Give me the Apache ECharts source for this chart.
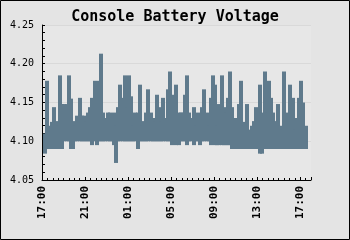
<!DOCTYPE html>
<html>
<head>
<meta charset="utf-8">
<script src="https://cdn.jsdelivr.net/npm/echarts@6/dist/echarts.min.js"></script>
<style>
html,body{margin:0;padding:0;background:#e4e4e4;}
#c{width:350px;height:240px;}
</style>
</head>
<body>
<div id="c"></div>
<script>
// Hours after 17:00 of first sample column, and sampling step (hours)
const startHour = 0.15;
const stepHours = 0.2;
// Upper envelope of battery voltage per column (V)
const hiValues = [
4.11, 4.178, 4.12, 4.125, 4.144, 4.126, 4.12, 4.185, 4.148, 4.148,
4.148, 4.185, 4.155, 4.126, 4.12, 4.133, 4.156, 4.133, 4.133, 4.126,
4.137, 4.144, 4.156, 4.178, 4.171, 4.178, 4.213, 4.137, 4.13, 4.137,
4.137, 4.13, 4.137, 4.12, 4.144, 4.173, 4.156, 4.185, 4.144, 4.185,
4.158, 4.12, 4.137, 4.137, 4.173, 4.12, 4.126, 4.137, 4.167, 4.137,
4.13, 4.126, 4.16, 4.144, 4.126, 4.156, 4.13, 4.167, 4.19, 4.16,
4.15, 4.173, 4.137, 4.137, 4.137, 4.16, 4.185, 4.137, 4.13, 4.144,
4.12, 4.137, 4.13, 4.144, 4.167, 4.137, 4.12, 4.156, 4.185, 4.173,
4.12, 4.148, 4.185, 4.144, 4.137, 4.156, 4.19, 4.144, 4.13, 4.13,
4.148, 4.178, 4.12, 4.125, 4.148, 4.115, 4.12, 4.126, 4.144, 4.13,
4.173, 4.137, 4.19, 4.137, 4.178, 4.156, 4.137, 4.126, 4.148, 4.12,
4.115, 4.19, 4.126, 4.137, 4.173, 4.156, 4.115, 4.13, 4.156, 4.178,
4.15, 4.12
];
// Lower envelope per column (V)
const loValues = [
4.084, 4.09, 4.09, 4.09, 4.09, 4.09, 4.09, 4.09, 4.09, 4.10,
4.10, 4.10, 4.09, 4.09, 4.10, 4.10, 4.10, 4.10, 4.10, 4.10,
4.10, 4.10, 4.095, 4.10, 4.095, 4.10, 4.10, 4.10, 4.10, 4.10,
4.10, 4.10, 4.095, 4.072, 4.10, 4.10, 4.10, 4.10, 4.10, 4.10,
4.10, 4.10, 4.10, 4.09, 4.10, 4.10, 4.10, 4.10, 4.10, 4.10,
4.10, 4.10, 4.10, 4.10, 4.10, 4.10, 4.10, 4.10, 4.10, 4.095,
4.10, 4.095, 4.095, 4.10, 4.10, 4.10, 4.095, 4.10, 4.10, 4.095,
4.10, 4.10, 4.095, 4.10, 4.10, 4.10, 4.10, 4.095, 4.10, 4.095,
4.095, 4.095, 4.095, 4.095, 4.095, 4.095, 4.095, 4.09, 4.09, 4.09,
4.09, 4.09, 4.09, 4.09, 4.09, 4.09, 4.09, 4.09, 4.09, 4.09,
4.084, 4.084, 4.09, 4.09, 4.09, 4.09, 4.09, 4.09, 4.09, 4.09,
4.09, 4.09, 4.09, 4.09, 4.09, 4.09, 4.09, 4.09, 4.09, 4.09,
4.09, 4.09
];
const xTickHours = [0, 4, 8, 12, 16, 20, 24];
const yTicks = [4.05, 4.10, 4.15, 4.20, 4.25];
const titleText = 'Console Battery Voltage';

const data = hiValues.map((h, i) => {
  const t0 = startHour + i * stepHours;
  return [t0, t0 + stepHours, loValues[i], h];
});

const mono = 'DejaVu Sans Mono';
const chart = echarts.init(document.getElementById('c'), null, {renderer: 'canvas'});
chart.setOption({
  animation: false,
  backgroundColor: '#e4e4e4',
  title: {
    text: titleText, left: 'center', top: 5,
    textStyle: {fontFamily: mono, fontSize: 15, fontWeight: 'bold', color: '#000'}
  },
  grid: {
    left: 42, right: 39, top: 25, bottom: 60,
    show: true, backgroundColor: '#e7e7e7', borderWidth: 0
  },
  xAxis: {
    type: 'value', min: 0, max: 25, interval: 4,
    axisLine: {onZero: false, lineStyle: {color: '#000', width: 1}},
    axisTick: {inside: true, length: 3, lineStyle: {color: '#000'}},
    minorTick: {show: true, splitNumber: 8, length: 2, lineStyle: {color: '#000'}},
    splitLine: {show: false},
    axisLabel: {
      rotate: 90, margin: 6, color: '#000', fontFamily: mono, fontSize: 11, fontWeight: 'bold',
      showMaxLabel: false,
      formatter: v => {
        if (xTickHours.indexOf(v) < 0) return '';
        const h = (17 + v) % 24;
        return (h < 10 ? '0' : '') + h + ':00';
      }
    }
  },
  yAxis: {
    type: 'value', min: 4.05, max: 4.25, interval: 0.05,
    axisLine: {show: true, onZero: false, lineStyle: {color: '#000', width: 1}},
    axisTick: {inside: true, length: 3, lineStyle: {color: '#000'}},
    minorTick: {show: true, splitNumber: 5, length: 3, lineStyle: {color: '#000'}},
    splitLine: {show: true, lineStyle: {color: '#d9d9d9', width: 1}},
    axisLabel: {
      margin: 8, color: '#000', fontFamily: mono, fontSize: 10,
      formatter: v => {
        const m = yTicks.find(t => Math.abs(t - v) < 1e-6);
        return m === undefined ? '' : m.toFixed(2);
      }
    }
  },
  series: [{
    type: 'custom',
    clip: true,
    encode: {x: [0, 1], y: [2, 3]},
    renderItem: (params, api) => {
      const p0 = api.coord([api.value(0), api.value(2)]);
      const p1 = api.coord([api.value(1), api.value(3)]);
      return {
        type: 'rect',
        shape: {x: Math.floor(p0[0]), y: p1[1], width: Math.ceil(p1[0] - p0[0]) + 1, height: p0[1] - p1[1]},
        style: {fill: '#5f7a8c'}
      };
    },
    data: data
  }],
  graphic: [{
    type: 'rect', z: 100,
    shape: {x: 0.5, y: 0.5, width: 349, height: 239},
    style: {fill: null, stroke: '#000', lineWidth: 1}
  }]
});
</script>
</body>
</html>
